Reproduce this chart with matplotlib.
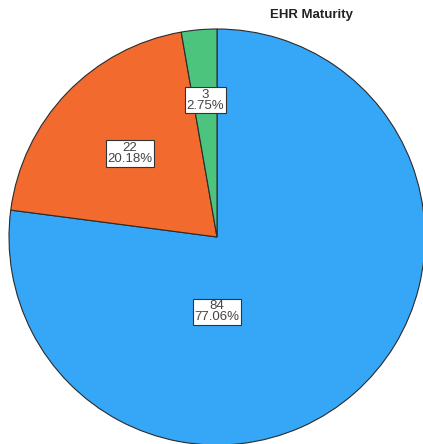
import numpy as np
import matplotlib
matplotlib.use('Agg')
import matplotlib.pyplot as plt

plt.rcParams['font.family'] = ['Liberation Sans', 'DejaVu Sans']

title = "EHR Maturity"
counts = [84, 22, 3]
percents = ["77.06%", "20.18%", "2.75%"]
colors = ['#36a6f7', '#f26a2d', '#4dc47e']

fig = plt.figure(figsize=(4.23, 4.44), dpi=100)
ax = fig.add_axes([9 / 423, -1 / 444, 416 / 423, 416 / 444])

wedges, _ = ax.pie(counts, colors=colors, startangle=90, counterclock=False,
                   wedgeprops=dict(edgecolor='#2b2b2b', linewidth=0.8))
ax.set_xlim(-1, 1)
ax.set_ylim(-1, 1)
ax.set_aspect('equal')
ax.axis('off')

# label spots: largest slice straight below centre, others along bisector
dists = [0.36, 0.58, 0.66]
for k, w in enumerate(wedges):
    if k == 0:
        x, y = 0.0, -dists[k]
    else:
        ang = np.deg2rad((w.theta1 + w.theta2) / 2)
        x, y = dists[k] * np.cos(ang), dists[k] * np.sin(ang)
    ax.text(x, y, "%d\n%s" % (counts[k], percents[k]), ha='center', va='center',
            fontsize=9.5, color='#444444', linespacing=0.9,
            bbox=dict(boxstyle='square,pad=0.12', fc='white', ec='#333333', lw=0.8))

fig.text(311 / 423, 1 - 15 / 444, title, ha='center', va='center',
         fontsize=9.5, fontweight='bold', color='#222222')

fig.savefig('out.png', dpi=100)
